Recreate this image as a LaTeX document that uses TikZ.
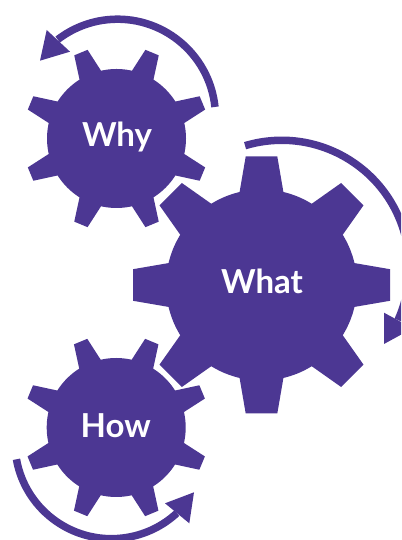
\documentclass[tikz,border=0pt]{standalone}
\usepackage{fontspec}
\setmainfont{Lato}
\usepackage{xcolor}
\definecolor{gearpurple}{RGB}{76,55,147}

% one tooth every 45 degrees: hub, first angle, root radius, tip radius, root half width, tip half width
\newcommand{\gearteeth}[6]{
    \foreach \a in {0,45,...,315} {
        \fill[gearfill, shift={(#1)}, rotate=#2+\a] (#3-3,-#5) -- (#4,-#6) -- (#4,#6) -- (#3-3,#5) -- cycle;
    }
}

\begin{document}
\begin{tikzpicture}[
    x=1pt, y=1pt,
    gearfill/.style={fill=gearpurple},
    gearbody/.style={circle, fill=gearpurple, inner sep=0pt},
    gearlabel/.style={anchor=base, text=white, font=\fontsize{33}{33}\selectfont\bfseries},
    turnline/.style={draw=gearpurple, line width=7.5pt}
]
    \clip (0,0) rectangle (401,540);

    % gears
    \node[gearbody, minimum size=139pt] (why) at (116.5,401.5) {};
    \node[gearbody, minimum size=191pt] (what) at (261.5,255) {};
    \node[gearbody, minimum size=139pt] (how) at (116.2,112.5) {};
    \gearteeth{why.center}{22.5}{69.5}{93}{12}{7.2}
    \gearteeth{what.center}{0}{95.5}{128.5}{22}{15.8}
    \gearteeth{how.center}{22.5}{69.5}{93}{12}{7.2}

    \node[gearlabel] (whytext) at (117,393.3) {Why};
    \node[gearlabel] (whattext) at (262,246.7) {What};
    \node[gearlabel] (howtext) at (115.7,102.3) {How};

    % turning arrows
    \coordinate (whypivot) at (117.5,422.8);
    \coordinate (whatpivot) at (281.7,272.2);
    \coordinate (howpivot) at (111.4,97.8);
    \draw[turnline] (whypivot) ++(6:98) arc[start angle=6, end angle=127.6, radius=98];
    \draw[turnline] (whatpivot) ++(106.7:127.5) arc[start angle=106.7, end angle=-24.2, radius=127.5];
    \draw[turnline] (howpivot) ++(190.2:96.5) arc[start angle=190.2, end angle=312.7, radius=96.5];

    \coordinate (whytip) at (40,479.3);
    \coordinate (whattip) at (384,196);
    \coordinate (howtip) at (194,47.7);
    \fill[gearfill] (whytip) -- (46.7,510) -- (70,488.3) -- cycle;
    \fill[gearfill] (whattip) -- (384,227.3) -- (412.7,211.7) -- cycle;
    \fill[gearfill] (howtip) -- (165,36.7) -- (189.3,16.7) -- cycle;
\end{tikzpicture}
\end{document}
